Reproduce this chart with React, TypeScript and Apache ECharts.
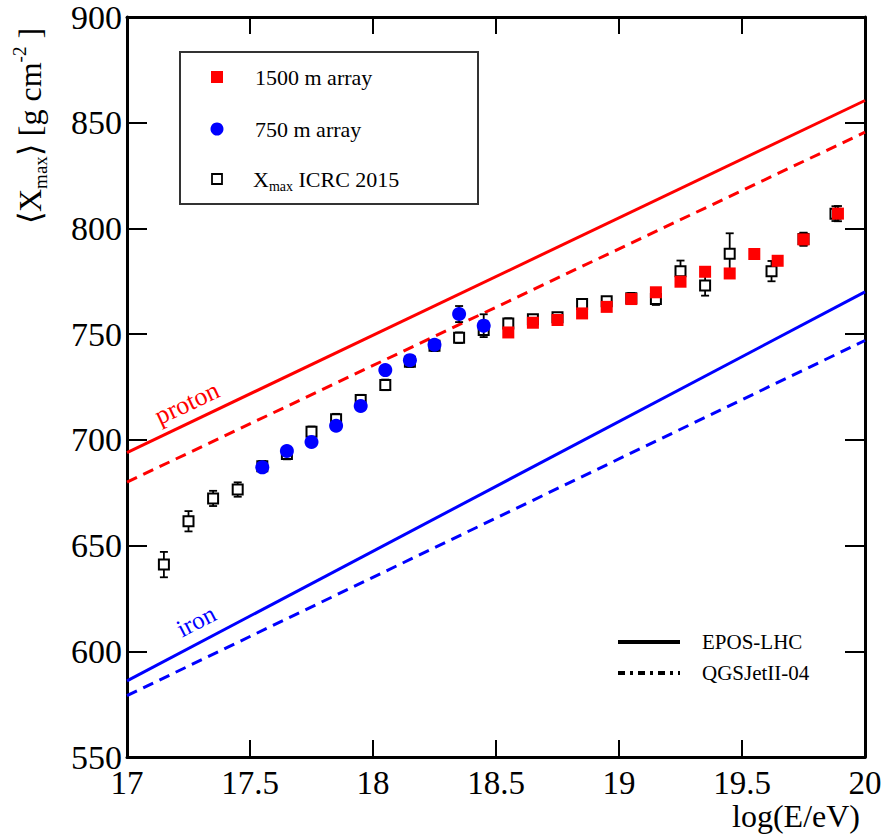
import React, { useEffect, useRef } from "react";
import * as echarts from "echarts";

// ICRC 2015 Xmax (open squares)
const icrcX = [17.15, 17.25, 17.35, 17.45, 17.55, 17.65, 17.75, 17.85, 17.95, 18.05, 18.15, 18.25, 18.35, 18.45, 18.55, 18.65, 18.75, 18.85, 18.95, 19.05, 19.15, 19.25, 19.35, 19.45, 19.62, 19.75, 19.88];
const icrcY = [641, 661.5, 672.3, 676.5, 687.5, 693.3, 703.8, 709.8, 718.8, 726, 737, 744.5, 748.3, 752, 755, 757, 758, 764.3, 765.6, 767, 766.6, 779.8, 773, 788, 779.8, 795, 807];
const icrcErr = [6, 4.8, 3.6, 3.4, 2.5, 2.5, 2.5, 2.5, 2.5, 2.5, 2.5, 2.5, 2.5, 2.5, 2.5, 2, 2, 2, 2, 2.5, 2.8, 5, 4.8, 9.7, 4.8, 3, 3.5];

// 1500 m array (red squares)
const redX = [18.55, 18.65, 18.75, 18.85, 18.95, 19.05, 19.15, 19.25, 19.35, 19.45, 19.55, 19.645, 19.75, 19.89];
const redY = [750.8, 755.4, 756.7, 759.8, 762.9, 766.6, 769.8, 774.8, 779.5, 778.7, 787.9, 784.7, 794.8, 807];
const redErr = [1.5, 1.5, 1.5, 1.5, 1.5, 1.5, 1.5, 2, 2, 2, 2, 2, 3, 3.6];

// 750 m array (blue circles)
const blueX = [17.55, 17.65, 17.75, 17.85, 17.95, 18.05, 18.15, 18.25, 18.35, 18.45];
const blueY = [687, 694.7, 699, 706.7, 716, 733, 737.7, 745, 759.5, 754];
const blueErr = [1, 1, 1, 1, 1, 1, 1.5, 1.5, 3.8, 5.4];

// Model predictions
const modelX = [17, 20];
const protonEpos = [694, 860.5];
const protonQgs = [680, 845.5];
const ironEpos = [586, 770];
const ironQgs = [579, 747];

const legendLabels = ["1500 m array", "750 m array", "ICRC 2015"];
const modelLabels = ["EPOS-LHC", "QGSJetII-04"];

const SERIF = "Liberation Serif, Times New Roman, serif";

function errRender(params: any, api: any) {
  const x = api.value(0);
  const y = api.value(1);
  const e = api.value(2);
  const p1 = api.coord([x, y + e]);
  const p2 = api.coord([x, y - e]);
  const cw = 4;
  const st = { stroke: "#000", lineWidth: 1.8 };
  return {
    type: "group",
    children: [
      { type: "line", shape: { x1: p1[0], y1: p1[1], x2: p2[0], y2: p2[1] }, style: st },
      { type: "line", shape: { x1: p1[0] - cw, y1: p1[1], x2: p1[0] + cw, y2: p1[1] }, style: st },
      { type: "line", shape: { x1: p2[0] - cw, y1: p2[1], x2: p2[0] + cw, y2: p2[1] }, style: st },
    ],
  };
}

export default function App() {
  const ref = useRef<HTMLDivElement>(null);
  useEffect(() => {
    document.body.style.margin = "0";
    const chart = echarts.init(ref.current!, undefined, { renderer: "svg" });
    const axisLine = { show: true, onZero: false, lineStyle: { color: "#000", width: 3 } };
    const axisTickX = { show: true, inside: true, length: 17, lineStyle: { color: "#000", width: 2 } };
    const axisTickY = { show: true, inside: true, length: 20, lineStyle: { color: "#000", width: 2 } };
    const line = (ys: number[], color: string, dashed: boolean) => ({
      type: "line",
      data: modelX.map((x, i) => [x, ys[i]]),
      showSymbol: false,
      silent: true,
      z: 1,
      lineStyle: { color, width: 3, type: dashed ? [11, 7] : "solid" },
    });
    const errSeries = (xs: number[], ys: number[], es: number[], z: number) => ({
      type: "custom",
      renderItem: errRender,
      data: xs.map((x, i) => [x, ys[i], es[i]]),
      encode: { x: 0, y: 1 },
      silent: true,
      z,
    });
    chart.setOption({
      animation: false,
      grid: { left: 127, right: 20, top: 17, bottom: 77 },
      xAxis: [
        {
          type: "value", min: 17, max: 20, interval: 0.5, position: "bottom",
          axisLine, axisTick: axisTickX,
          axisLabel: { color: "#000", fontSize: 33, fontFamily: SERIF, margin: 9 },
          splitLine: { show: false },
        },
        {
          type: "value", min: 17, max: 20, interval: 0.5, position: "top",
          axisLine, axisTick: axisTickX, axisLabel: { show: false }, splitLine: { show: false },
        },
      ],
      yAxis: [
        {
          type: "value", min: 550, max: 900, interval: 50, position: "left",
          axisLine, axisTick: axisTickY,
          axisLabel: { color: "#000", fontSize: 34, fontFamily: SERIF, margin: 5 },
          splitLine: { show: false },
        },
        {
          type: "value", min: 550, max: 900, interval: 50, position: "right",
          axisLine, axisTick: axisTickY, axisLabel: { show: false }, splitLine: { show: false },
        },
      ],
      series: [
        line(protonEpos, "#ff0000", false),
        line(protonQgs, "#ff0000", true),
        line(ironEpos, "#0000ff", false),
        line(ironQgs, "#0000ff", true),
        errSeries(icrcX, icrcY, icrcErr, 2),
        {
          type: "scatter", name: legendLabels[2],
          data: icrcX.map((x, i) => [x, icrcY[i]]),
          symbol: "rect", symbolSize: 10,
          itemStyle: { color: "#fff", borderColor: "#000", borderWidth: 2, opacity: 1 },
          z: 3,
        },
        errSeries(blueX, blueY, blueErr, 4),
        {
          type: "scatter", name: legendLabels[1],
          data: blueX.map((x, i) => [x, blueY[i]]),
          symbol: "circle", symbolSize: 14,
          itemStyle: { color: "#0000ff", opacity: 1 },
          z: 5,
        },
        errSeries(redX, redY, redErr, 4),
        {
          type: "scatter", name: legendLabels[0],
          data: redX.map((x, i) => [x, redY[i]]),
          symbol: "rect", symbolSize: 12,
          itemStyle: { color: "#ff0000", opacity: 1 },
          z: 5,
        },
      ],
      graphic: [
        // y axis title
        {
          type: "text", x: 30, y: 224, rotation: Math.PI / 2,
          style: {
            text: "{m|⟨X}{s|max}{m|⟩ [g cm}{p|-2}{m| ]}",
            align: "left", verticalAlign: "middle",
            rich: {
              m: { fontSize: 32, lineHeight: 40, fontFamily: SERIF, fill: "#000" },
              s: { fontSize: 19, lineHeight: 19, fontFamily: SERIF, fill: "#000", verticalAlign: "bottom" },
              p: { fontSize: 19, lineHeight: 19, fontFamily: SERIF, fill: "#000", verticalAlign: "top" },
            },
          },
        },
        // x axis title
        {
          type: "text", x: 860, y: 816,
          style: { text: "log(E/eV)", align: "right", verticalAlign: "middle", fontSize: 32, fontFamily: SERIF, fill: "#000" },
        },
        // curve labels
        {
          type: "text", x: 187, y: 403, rotation: (25 * Math.PI) / 180,
          style: { text: "proton", align: "center", verticalAlign: "middle", fontSize: 26, fontFamily: SERIF, fill: "#ff0000" },
        },
        {
          type: "text", x: 196, y: 621, rotation: (27 * Math.PI) / 180,
          style: { text: "iron", align: "center", verticalAlign: "middle", fontSize: 25, fontFamily: SERIF, fill: "#0000ff" },
        },
        // data legend
        {
          type: "rect", shape: { x: 180, y: 52, width: 298, height: 152 },
          style: { fill: "#fff", stroke: "#333", lineWidth: 2 }, z: 10,
        },
        { type: "rect", shape: { x: 211, y: 71, width: 12, height: 12 }, style: { fill: "#ff0000" }, z: 11 },
        { type: "circle", shape: { cx: 217, cy: 129, r: 6.5 }, style: { fill: "#0000ff" }, z: 11 },
        { type: "rect", shape: { x: 212, y: 174, width: 10, height: 10 }, style: { fill: "#fff", stroke: "#000", lineWidth: 1.8 }, z: 11 },
        {
          type: "text", x: 255, y: 77, z: 11,
          style: { text: legendLabels[0], align: "left", verticalAlign: "middle", fontSize: 22, fontFamily: SERIF, fill: "#000" },
        },
        {
          type: "text", x: 255, y: 129, z: 11,
          style: { text: legendLabels[1], align: "left", verticalAlign: "middle", fontSize: 22, fontFamily: SERIF, fill: "#000" },
        },
        {
          type: "text", x: 253, y: 179, z: 11,
          style: {
            text: "{a|X}{b|max}{a| " + legendLabels[2] + "}",
            align: "left", verticalAlign: "middle",
            rich: {
              a: { fontSize: 22, lineHeight: 28, fontFamily: SERIF, fill: "#000" },
              b: { fontSize: 14, lineHeight: 14, fontFamily: SERIF, fill: "#000", verticalAlign: "bottom" },
            },
          },
        },
        // model legend
        { type: "line", shape: { x1: 618, y1: 642, x2: 680, y2: 642 }, style: { stroke: "#000", lineWidth: 4 } },
        { type: "line", shape: { x1: 618, y1: 673, x2: 680, y2: 673 }, style: { stroke: "#000", lineWidth: 4, lineDash: [7, 5, 3, 5] } },
        {
          type: "text", x: 702, y: 642,
          style: { text: modelLabels[0], align: "left", verticalAlign: "middle", fontSize: 21, fontFamily: SERIF, fill: "#000" },
        },
        {
          type: "text", x: 702, y: 673,
          style: { text: modelLabels[1], align: "left", verticalAlign: "middle", fontSize: 21, fontFamily: SERIF, fill: "#000" },
        },
      ],
    });
    return () => chart.dispose();
  }, []);
  return <div ref={ref} style={{ width: 885, height: 834 }} />;
}
